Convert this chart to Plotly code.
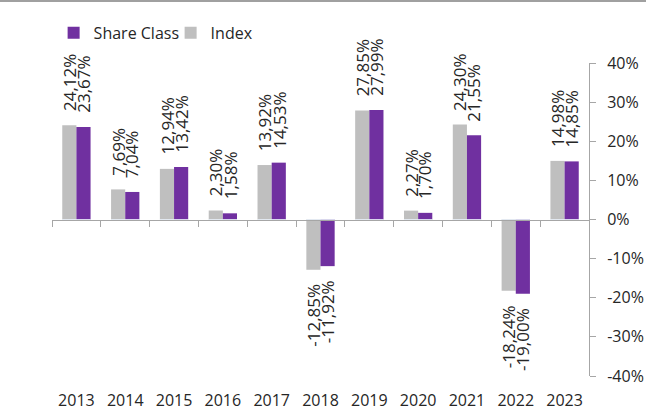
import plotly.graph_objects as go

years = ["2013", "2014", "2015", "2016", "2017", "2018", "2019", "2020", "2021", "2022", "2023"]
index_vals = [24.12, 7.69, 12.94, 2.30, 13.92, -12.85, 27.85, 2.27, 24.30, -18.24, 14.98]
share_vals = [23.67, 7.04, 13.42, 1.58, 14.53, -11.92, 27.99, 1.70, 21.55, -19.00, 14.85]
y_ticks = [-40, -30, -20, -10, 0, 10, 20, 30, 40]
y_ticktext = ["-40%", "-30%", "-20%", "-10%", "0%", "10%", "20%", "30%", "40%"]

GREY = "#BFBFBF"
PURPLE = "#7030A0"
TEXT = "#262626"
AXIS = "#A6A6A6"
FONT = "Open Sans"

def fmt(v):
    return f"{v:.2f}".replace(".", ",") + "%"

x_range = [-0.5, len(years) - 0.5]

fig = go.Figure()
fig.add_trace(go.Bar(name="Index", x=years, y=index_vals, marker_color=GREY,
                     marker_line_width=0, hoverinfo="skip"))
fig.add_trace(go.Bar(name="Share Class", x=years, y=share_vals, marker_color=PURPLE,
                     marker_line_width=0, hoverinfo="skip"))
# dummy trace carrying the zero-line axis with boundary ticks
fig.add_trace(go.Bar(x=years, y=[0] * len(years), xaxis="x2", showlegend=False,
                     marker_color="rgba(0,0,0,0)", hoverinfo="skip"))

annotations = []
for vals, shift in ((index_vals, -7), (share_vals, 7)):
    for i, v in enumerate(vals):
        annotations.append(dict(
            x=i, y=v, xref="x", yref="y", text=fmt(v), showarrow=False,
            textangle=-90, xshift=shift, yshift=12 if v >= 0 else -12,
            yanchor="bottom" if v >= 0 else "top", xanchor="center",
            font=dict(family=FONT, size=17, color=TEXT)))

fig.update_layout(
    width=646, height=412,
    margin=dict(l=52, r=57, t=63, b=36, autoexpand=False),
    paper_bgcolor="white", plot_bgcolor="white",
    barmode="group", bargap=0.42, bargroupgap=0,
    font=dict(family=FONT, size=16, color=TEXT),
    showlegend=True,
    legend=dict(orientation="h", traceorder="reversed",
                xref="container", yref="container", x=0.083, y=0.92,
                xanchor="left", yanchor="middle",
                font=dict(family=FONT, size=16, color=TEXT),
                itemwidth=30, entrywidth=72, bgcolor="rgba(0,0,0,0)"),
    xaxis=dict(type="category", categoryorder="array", categoryarray=years,
               range=x_range, anchor="y", side="bottom", automargin=False,
               showline=False, ticks="", showgrid=False, zeroline=False,
               ticklabelstandoff=13,
               tickfont=dict(family=FONT, size=16, color=TEXT)),
    xaxis2=dict(type="category", categoryorder="array", categoryarray=years,
                range=x_range, overlaying="x", anchor="free", position=0.5,
                automargin=False,
                showline=True, linecolor=AXIS, linewidth=1,
                ticks="outside", ticklen=6, tickcolor=AXIS, tickson="boundaries",
                showticklabels=False, showgrid=False, zeroline=False),
    yaxis=dict(range=[-40, 40], side="right", tickvals=y_ticks, ticktext=y_ticktext,
               automargin=False,
               showline=True, linecolor=AXIS, linewidth=1,
               ticks="outside", ticklen=6, tickcolor=AXIS,
               showgrid=False, zeroline=False, ticklabelstandoff=8,
               tickfont=dict(family=FONT, size=16, color=TEXT)),
    annotations=annotations,
    shapes=[dict(type="line", xref="paper", yref="paper",
                 x0=-52 / 537, x1=1 + 57 / 537, y0=1 + 62 / 313, y1=1 + 62 / 313,
                 line=dict(color="#A0A0A0", width=2))],
)

fig.write_html("out.html")
